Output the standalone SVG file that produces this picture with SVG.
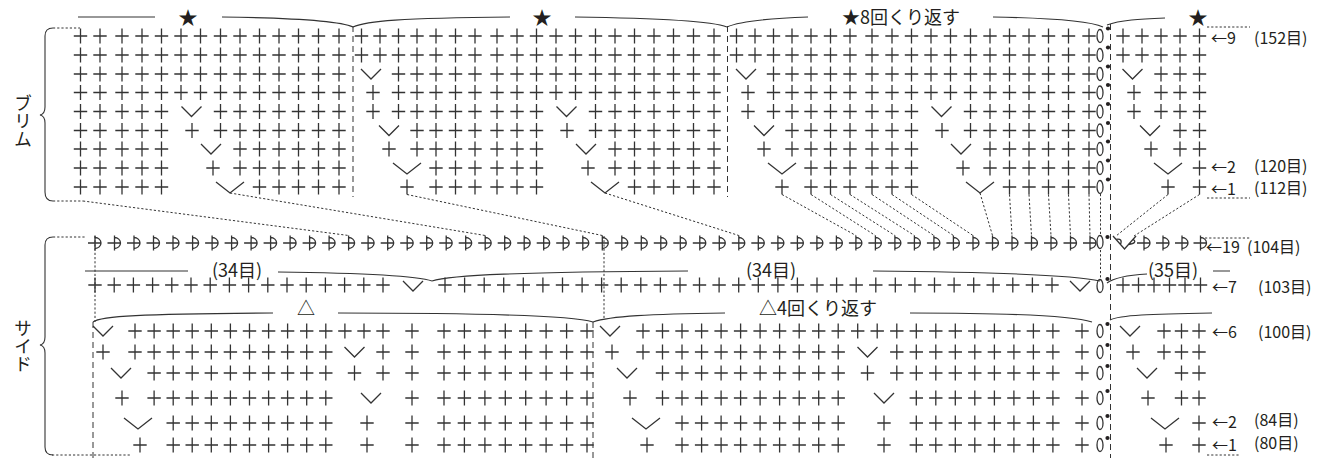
<svg xmlns="http://www.w3.org/2000/svg" width="1322" height="458" viewBox="0 0 1322 458">
<style>
.s{fill:none;stroke:#333;stroke-width:1.3}
.l{fill:none;stroke:#333;stroke-width:1.1}
.d{fill:none;stroke:#333;stroke-width:1;stroke-dasharray:2.2 2}
.e{fill:none;stroke:#333;stroke-width:1;stroke-dasharray:6 4}
.t{font-family:"Noto Sans CJK JP","Noto Sans",sans-serif;fill:#231f20}
.r{font-size:16px}
.dt{fill:#231f20}
</style>
<defs>
<path id="x" d="M-6.7 0H6.7M0-7.5V7.5"/>
<path id="v" d="M-10-5L0 5L10-5"/>
<path id="w" d="M-14-5L0 6L14-5"/>
<path id="s" d="M-7 0H6M0-7.5V7.5M0-5.5A6 5.5 0 0 1 0 5.5"/>
<ellipse id="o" rx="3" ry="6.5"/>
<g id="bA"><use href="#x" x="436"/><use href="#x" x="455.5"/><use href="#x" x="475"/><use href="#x" x="497"/><use href="#x" x="517"/><use href="#x" x="536.5"/></g>
<g id="bB"><use href="#x" x="634.5"/><use href="#x" x="654"/><use href="#x" x="673.5"/><use href="#x" x="693.5"/><use href="#x" x="714"/></g>
<g id="R2"><use href="#x" x="398.5"/><use href="#x" x="417"/><use href="#bA"/><use href="#x" x="556"/><use href="#x" x="575.5"/><use href="#x" x="595.5"/><use href="#x" x="615"/><use href="#bB"/></g>
<g id="F"><use href="#x" x="361.5"/><use href="#x" x="380"/><use href="#R2"/></g>
<g id="T">
<use href="#F" y="36"/>
<use href="#F" y="55"/>
<g transform="translate(0,74)"><use href="#v" x="371"/><use href="#R2"/></g>
<g transform="translate(0,92.5)"><use href="#x" x="373"/><use href="#R2"/></g>
<g transform="translate(0,111.5)"><use href="#x" x="373"/><use href="#x" x="398.5"/><use href="#x" x="417"/><use href="#bA"/><use href="#v" x="566.5"/><use href="#x" x="595.5"/><use href="#x" x="615"/><use href="#bB"/></g>
<g transform="translate(0,130.5)"><use href="#v" x="389"/><use href="#x" x="417"/><use href="#bA"/><use href="#x" x="567"/><use href="#x" x="595.5"/><use href="#x" x="615"/><use href="#bB"/></g>
<g transform="translate(0,149)"><use href="#x" x="389"/><use href="#x" x="417"/><use href="#bA"/><use href="#v" x="586"/><use href="#x" x="615"/><use href="#bB"/></g>
<g transform="translate(0,168)"><use href="#w" x="407"/><use href="#bA"/><use href="#x" x="588"/><use href="#x" x="615"/><use href="#bB"/></g>
<g transform="translate(0,187)"><use href="#x" x="407"/><use href="#bA"/><use href="#w" x="605"/><use href="#bB"/></g>
</g>
<g id="q"><use href="#x" x="1161"/><use href="#q2"/></g>
<g id="q2"><use href="#x" x="1180"/><use href="#x" x="1199.5"/></g>
<g id="SA1"><use href="#x" x="173.2"/><use href="#x" x="192.2"/><use href="#x" x="211.3"/><use href="#x" x="230.4"/><use href="#x" x="249.5"/><use href="#x" x="268.6"/><use href="#x" x="287.6"/><use href="#x" x="306.7"/><use href="#x" x="325.8"/></g>
<g id="GA"><use href="#x" x="412"/><use href="#x" x="444"/><use href="#x" x="464.4"/><use href="#x" x="484.9"/><use href="#x" x="505.3"/><use href="#x" x="525.7"/><use href="#x" x="546.1"/><use href="#x" x="566.6"/><use href="#x" x="587"/></g>
<g id="SB1"><use href="#x" x="682"/><use href="#x" x="701.6"/><use href="#x" x="721.1"/><use href="#x" x="740.6"/><use href="#x" x="760.1"/><use href="#x" x="779.6"/><use href="#x" x="799.2"/><use href="#x" x="818.7"/><use href="#x" x="838.2"/></g>
<g id="GB"><use href="#x" x="916.3"/><use href="#x" x="935.8"/><use href="#x" x="955.3"/><use href="#x" x="974.8"/><use href="#x" x="994.4"/><use href="#x" x="1013.9"/><use href="#x" x="1033.4"/><use href="#x" x="1052.9"/><use href="#x" x="1082"/><use href="#o" x="1100"/></g>
<clipPath id="c1"><rect x="72" y="0" width="285" height="205"/></clipPath>
</defs>
<rect width="1322" height="458" fill="#fff"/>

<g id="brim" class="s">
<use href="#T"/>
<use href="#T" x="375"/>
<g clip-path="url(#c1)"><use href="#T" x="-375"/></g>
<g id="brim-end">
<g transform="translate(0,36)"><use href="#x" x="1123"/><use href="#x" x="1142"/><use href="#q"/></g>
<g transform="translate(0,55)"><use href="#x" x="1123"/><use href="#x" x="1142"/><use href="#q"/></g>
<g transform="translate(0,74)"><use href="#v" x="1132.5"/><use href="#q"/></g>
<g transform="translate(0,92.5)"><use href="#x" x="1134"/><use href="#q"/></g>
<g transform="translate(0,111.5)"><use href="#x" x="1134"/><use href="#q"/></g>
<g transform="translate(0,130.5)"><use href="#v" x="1150"/><use href="#q2"/></g>
<g transform="translate(0,149)"><use href="#x" x="1151"/><use href="#q2"/></g>
<g transform="translate(0,168)"><use href="#w" x="1168"/><use href="#x" x="1199.5"/></g>
<g transform="translate(0,187)"><use href="#x" x="1168"/><use href="#x" x="1199.5"/></g>
</g>
<g id="brim-chain"><use href="#o" x="1100" y="36"/><use href="#o" x="1100" y="55"/><use href="#o" x="1100" y="74"/><use href="#o" x="1100" y="92.5"/><use href="#o" x="1100" y="111.5"/><use href="#o" x="1100" y="130.5"/><use href="#o" x="1100" y="149"/><use href="#o" x="1100" y="168"/><use href="#o" x="1100" y="187"/></g>
</g>

<g id="side" class="s">
<g id="row19" transform="translate(0,243)">
<use href="#s" x="95"/><use href="#s" x="114.5"/><use href="#s" x="134"/><use href="#s" x="153.5"/><use href="#s" x="173"/><use href="#s" x="192.6"/><use href="#s" x="212.1"/><use href="#s" x="231.6"/><use href="#s" x="251.1"/><use href="#s" x="270.6"/><use href="#s" x="290.1"/><use href="#s" x="309.6"/><use href="#s" x="329.1"/><use href="#s" x="348.6"/><use href="#s" x="368.1"/><use href="#s" x="387.7"/><use href="#s" x="407.2"/><use href="#s" x="426.7"/><use href="#s" x="446.2"/><use href="#s" x="465.7"/><use href="#s" x="485.2"/><use href="#s" x="504.7"/><use href="#s" x="524.2"/><use href="#s" x="543.7"/><use href="#s" x="563.2"/><use href="#s" x="582.8"/><use href="#s" x="602.3"/><use href="#s" x="621.8"/><use href="#s" x="641.3"/><use href="#s" x="660.8"/><use href="#s" x="680.3"/><use href="#s" x="699.8"/><use href="#s" x="719.3"/><use href="#s" x="738.8"/><use href="#s" x="758.3"/><use href="#s" x="777.9"/><use href="#s" x="797.4"/><use href="#s" x="816.9"/><use href="#s" x="836.4"/><use href="#s" x="855.9"/><use href="#s" x="875.4"/><use href="#s" x="894.9"/><use href="#s" x="914.4"/><use href="#s" x="933.9"/><use href="#s" x="953.4"/><use href="#s" x="973"/><use href="#s" x="992.5"/><use href="#s" x="1012"/><use href="#s" x="1031.5"/><use href="#s" x="1051"/><use href="#s" x="1070.5"/><use href="#s" x="1090"/>
<use href="#o" x="1100" y="-1"/>
<path d="M1113-7L1124.5 6L1136-7M1115.9-3.7Q1123-5 1120.5 1.5M1133.1-3.7Q1138 0 1128.5 1.5"/>
<use href="#s" x="1144"/><use href="#s" x="1163"/><use href="#s" x="1182"/><use href="#s" x="1200.5"/>
</g>
<g id="row7" transform="translate(0,285)">
<use href="#x" x="95"/><use href="#x" x="114.2"/><use href="#x" x="133.4"/><use href="#x" x="152.6"/><use href="#x" x="171.8"/><use href="#x" x="191"/><use href="#x" x="210.2"/><use href="#x" x="229.4"/><use href="#x" x="248.6"/><use href="#x" x="267.8"/><use href="#x" x="287"/><use href="#x" x="306.2"/><use href="#x" x="325.4"/><use href="#x" x="344.6"/><use href="#x" x="363.8"/><use href="#x" x="383"/>
<use href="#v" x="413" y="1"/>
<use href="#x" x="445"/><use href="#x" x="464.6"/><use href="#x" x="484.2"/><use href="#x" x="503.7"/><use href="#x" x="523.3"/><use href="#x" x="542.9"/><use href="#x" x="562.5"/><use href="#x" x="582.1"/><use href="#x" x="601.6"/><use href="#x" x="621.2"/><use href="#x" x="640.8"/><use href="#x" x="660.4"/><use href="#x" x="680"/><use href="#x" x="699.5"/><use href="#x" x="719.1"/><use href="#x" x="738.7"/><use href="#x" x="758.3"/><use href="#x" x="777.9"/><use href="#x" x="797.4"/><use href="#x" x="817"/><use href="#x" x="836.6"/><use href="#x" x="856.2"/><use href="#x" x="875.8"/><use href="#x" x="895.3"/><use href="#x" x="914.9"/><use href="#x" x="934.5"/><use href="#x" x="954.1"/><use href="#x" x="973.7"/><use href="#x" x="993.2"/><use href="#x" x="1012.8"/><use href="#x" x="1032.4"/><use href="#x" x="1052"/>
<use href="#v" x="1080" y="1"/>
<use href="#o" x="1100" y="1"/>
<use href="#x" x="1123"/><use href="#x" x="1138.5"/><use href="#x" x="1154"/><use href="#x" x="1169.5"/><use href="#x" x="1185"/><use href="#x" x="1200.5"/>
</g>
<g id="row6" transform="translate(0,331)"><use href="#v" x="103"/><use href="#x" x="135"/><use href="#x" x="154.1"/><use href="#SA1"/><use href="#x" x="344.9"/><use href="#x" x="364"/><use href="#x" x="383"/><use href="#GA"/><use href="#v" x="610"/><use href="#x" x="643"/><use href="#x" x="662.5"/><use href="#SB1"/><use href="#x" x="857.7"/><use href="#x" x="877.2"/><use href="#x" x="896.8"/><use href="#GB"/><use href="#v" x="1130"/><use href="#x" x="1164"/><use href="#x" x="1181.5"/><use href="#x" x="1199"/></g>
<g id="row5" transform="translate(0,352)"><use href="#x" x="103"/><use href="#x" x="135"/><use href="#x" x="154.1"/><use href="#SA1"/><use href="#v" x="354.5"/><use href="#x" x="383"/><use href="#GA"/><use href="#x" x="612"/><use href="#x" x="643"/><use href="#x" x="662.5"/><use href="#SB1"/><use href="#v" x="867.5"/><use href="#x" x="896.8"/><use href="#GB"/><use href="#x" x="1133"/><use href="#x" x="1164"/><use href="#x" x="1181.5"/><use href="#x" x="1199"/></g>
<g id="row4" transform="translate(0,373)"><use href="#v" x="121"/><use href="#x" x="154.1"/><use href="#SA1"/><use href="#x" x="354.5"/><use href="#x" x="383"/><use href="#GA"/><use href="#v" x="627"/><use href="#x" x="662.5"/><use href="#SB1"/><use href="#x" x="867.5"/><use href="#x" x="896.8"/><use href="#GB"/><use href="#v" x="1147"/><use href="#x" x="1181.5"/><use href="#x" x="1199"/></g>
<g id="row3" transform="translate(0,398)"><use href="#x" x="122"/><use href="#x" x="154.1"/><use href="#SA1"/><use href="#v" x="371"/><use href="#GA"/><use href="#x" x="630"/><use href="#x" x="662.5"/><use href="#SB1"/><use href="#v" x="884"/><use href="#GB"/><use href="#x" x="1148"/><use href="#x" x="1181.5"/><use href="#x" x="1199"/></g>
<g id="row2" transform="translate(0,423)"><use href="#w" x="138"/><use href="#SA1"/><use href="#x" x="367"/><use href="#GA"/><use href="#w" x="646"/><use href="#SB1"/><use href="#x" x="884"/><use href="#GB"/><use href="#w" x="1165"/><use href="#x" x="1199"/></g>
<g id="row1" transform="translate(0,445)"><use href="#x" x="140"/><use href="#SA1"/><use href="#x" x="367"/><use href="#GA"/><use href="#x" x="647"/><use href="#SB1"/><use href="#x" x="884"/><use href="#GB"/><use href="#x" x="1166"/><use href="#x" x="1199"/></g>
</g>

<g id="slip-dots" class="dt">
<circle cx="1108" cy="28.5" r="2.1"/><circle cx="1108" cy="47.5" r="2.1"/><circle cx="1108" cy="66.5" r="2.1"/><circle cx="1108" cy="85" r="2.1"/><circle cx="1108" cy="104" r="2.1"/><circle cx="1108" cy="123" r="2.1"/><circle cx="1108" cy="141.5" r="2.1"/><circle cx="1108" cy="160.5" r="2.1"/><circle cx="1108" cy="179.5" r="2.1"/>
<circle cx="1107.5" cy="237" r="2.1"/><circle cx="1107.5" cy="279" r="2.1"/>
<circle cx="1107.5" cy="324" r="2.1"/><circle cx="1107.5" cy="345" r="2.1"/><circle cx="1107.5" cy="366" r="2.1"/><circle cx="1107.5" cy="391" r="2.1"/><circle cx="1107.5" cy="416" r="2.1"/><circle cx="1107.5" cy="438" r="2.1"/>
</g>

<g id="connectors">
<g class="d">
<path d="M83 201L348.6 235.5M230 193L485.2 235.5M407 194.5L602.3 235.5M605 193L738.8 235.5M782 194.5L855.9 235.5M811 194.5L875.4 235.5M830.5 194.5L894.9 235.5M850 194.5L914.4 235.5M872 194.5L933.9 235.5M892 194.5L953.4 235.5M911.5 194.5L973 235.5M980 193L992.5 235.5M1009.5 194.5L1012 235.5M1029 194.5L1031.5 235.5M1048.5 194.5L1051 235.5M1068.5 194.5L1070.5 235.5M1089 194.5L1090 235.5M1100.5 194V234M1100.5 250V278M1168 194.5L1116 236M1199.5 194.5L1134 236"/>
<path d="M53 28H80M53 201H83M53 237H86M52 455H130M1207 27H1250M1207 198H1250M1205 238H1250M1207 455H1240M95 236V322M604 236V320"/>
</g>
<path class="e" d="M353 26V197M727.5 26V197M93 322V458M593 322V458M1110.5 24V458"/>
</g>

<g id="braces" class="l">
<path d="M53 28Q45 28 45 36V107Q45 114 40 115Q45 116 45 123V192Q45 201 53 201"/>
<path d="M53 237Q45 237 45 245V337Q45 344 40 345Q45 346 45 353V447Q45 455 53 455"/>
<path d="M78 17H155M222 17C300 18 340 21 353 27M353 27C366 21 400 18 510 17M575 17C650 18 712 21 727 27M727 27C740 21 780 18 808 17M993 17C1050 18 1090 21 1103 27M1107 25C1120 20 1140 19 1165 18"/>
<path d="M85 271H188M278 272C360 273 415 275 432 281M432 281C450 275 520 272 688 271M873 271C980 272 1070 274 1100 281M1107 283C1115 277 1130 275 1147 274M1213 271H1230"/>
<path d="M93 322C100 316 140 314 273 313M338 313C480 313 570 315 593 322M593 322C610 316 650 314 725 313M910 313C1000 313 1070 315 1092 322M1110 320C1120 315 1150 314 1212 313"/>
</g>

<g id="labels" class="t">
<text x="23" y="94" font-size="18" writing-mode="vertical-rl">ブリム</text>
<text x="23" y="319" font-size="18" writing-mode="vertical-rl">サイド</text>
<text x="188" y="25" font-size="19" text-anchor="middle">★</text>
<text x="542" y="25" font-size="19" text-anchor="middle">★</text>
<text x="1198" y="25" font-size="19" text-anchor="middle">★</text>
<text x="842" y="24" font-size="18">★8回くり返す</text>
<text x="306" y="315" font-size="18" text-anchor="middle">△</text>
<text x="759" y="315" font-size="18">△4回くり返す</text>
<text x="212" y="276.5" font-size="18">(34目)</text>
<text x="746" y="276.5" font-size="18">(34目)</text>
<text x="1148" y="276.5" font-size="18">(35目)</text>
<text class="r" x="1211" y="44">←9</text>
<text class="r" x="1254" y="44">(152目)</text>
<text class="r" x="1211" y="173">←2</text>
<text class="r" x="1254" y="172">(120目)</text>
<text class="r" x="1211" y="195">←1</text>
<text class="r" x="1254" y="194">(112目)</text>
<text class="r" x="1206" y="253">←19</text>
<text class="r" x="1247" y="253">(104目)</text>
<text class="r" x="1212" y="293">←7</text>
<text class="r" x="1258" y="293">(103目)</text>
<text class="r" x="1212" y="338">←6</text>
<text class="r" x="1258" y="338">(100目)</text>
<text class="r" x="1212" y="428">←2</text>
<text class="r" x="1254" y="426">(84目)</text>
<text class="r" x="1212" y="451">←1</text>
<text class="r" x="1254" y="449">(80目)</text>
</g>
</svg>
